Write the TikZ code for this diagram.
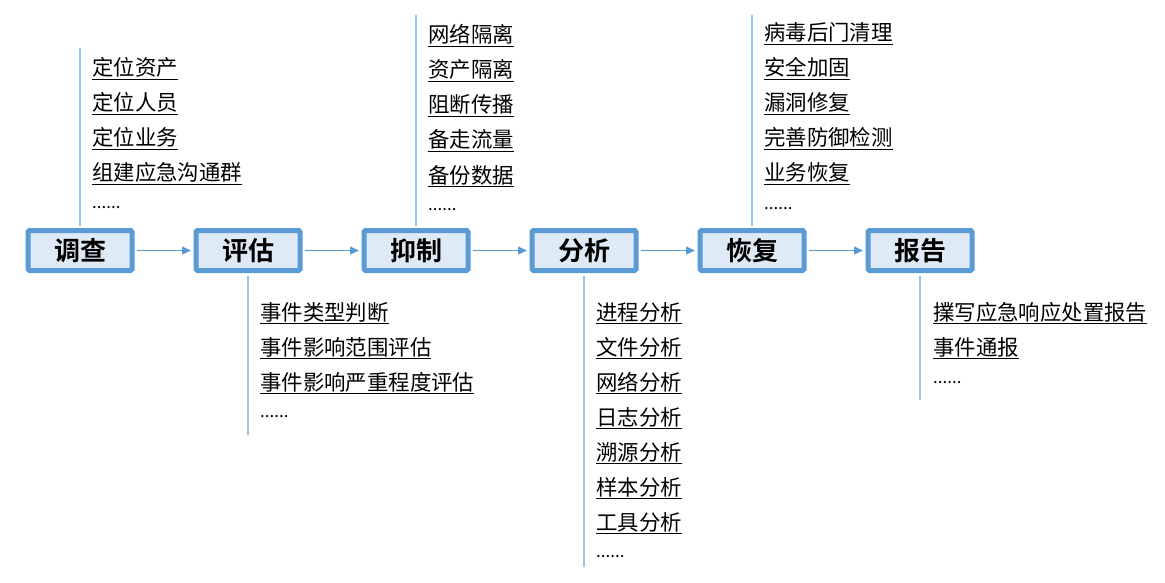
\documentclass[tikz,border=0pt]{standalone}
\usepackage{fontspec}
\setmainfont{Noto Sans CJK SC}[BoldFont={Noto Sans CJK SC Bold}]
\usetikzlibrary{arrows.meta}
\definecolor{boxblue}{HTML}{5B9BD5}
\definecolor{boxfill}{HTML}{DEEBF7}
\definecolor{stemblue}{HTML}{9DC3E6}

\begin{document}
\begin{tikzpicture}[x=1pt,y=-1pt,
    stage/.style={draw=boxblue, line width=5pt, fill=boxfill, rounded corners=1.5pt, minimum width=104pt, minimum height=40pt, inner sep=0pt, font=\fontsize{26}{30}\selectfont\bfseries},
    item/.style={anchor=base west, inner sep=0pt, font=\fontsize{21.4}{24}\selectfont},
    more/.style={anchor=base west, inner sep=0pt, font=\fontsize{17}{20}\selectfont},
    stem/.style={draw=stemblue, line width=1.5pt, shorten <=2.5pt},
    flow/.style={draw=boxblue, line width=1.3pt, shorten <=2.5pt, shorten >=2.5pt, -{Triangle[length=9pt,width=8pt]}}]
    \useasboundingbox (0,0) rectangle (1165,583);
    % stages
    \node[stage] (0) at (80,250.5) {调查};
    \node[stage] (1) at (248,250.5) {评估};
    \node[stage] (2) at (416,250.5) {抑制};
    \node[stage] (3) at (584,250.5) {分析};
    \node[stage] (4) at (752,250.5) {恢复};
    \node[stage] (5) at (920,250.5) {报告};
    \draw[flow] (0) -- (1);
    \draw[flow] (1) -- (2);
    \draw[flow] (2) -- (3);
    \draw[flow] (3) -- (4);
    \draw[flow] (4) -- (5);

    % stem ends
    \coordinate (s0) at (80,48);
    \coordinate (s1) at (248,435);
    \coordinate (s2) at (416,15);
    \coordinate (s3) at (584,567);
    \coordinate (s4) at (752,15);
    \coordinate (s5) at (920,400);
    \draw[stem] (0.north) -- (s0);
    \draw[stem] (1.south) -- (s1);
    \draw[stem] (2.north) -- (s2);
    \draw[stem] (3.south) -- (s3);
    \draw[stem] (4.north) -- (s4);
    \draw[stem] (5.south) -- (s5);

    % items
    \node[item] (a1) at (92,76) {\underline{定位资产}};
    \node[item] (a2) at (92,111) {\underline{定位人员}};
    \node[item] (a3) at (92,146) {\underline{定位业务}};
    \node[item] (a4) at (92,181) {\underline{组建应急沟通群}};
    \node[more] (a5) at (92,208) {......};

    \node[item] (b1) at (260,320) {\underline{事件类型判断}};
    \node[item] (b2) at (260,355) {\underline{事件影响范围评估}};
    \node[item] (b3) at (260,390) {\underline{事件影响严重程度评估}};
    \node[more] (b4) at (260,417) {......};

    \node[item] (c1) at (428,43) {\underline{网络隔离}};
    \node[item] (c2) at (428,78) {\underline{资产隔离}};
    \node[item] (c3) at (428,113) {\underline{阻断传播}};
    \node[item] (c4) at (428,148) {\underline{备走流量}};
    \node[item] (c5) at (428,183) {\underline{备份数据}};
    \node[more] (c6) at (428,211) {......};

    \node[item] (d1) at (596,320) {\underline{进程分析}};
    \node[item] (d2) at (596,355) {\underline{文件分析}};
    \node[item] (d3) at (596,390) {\underline{网络分析}};
    \node[item] (d4) at (596,425) {\underline{日志分析}};
    \node[item] (d5) at (596,460) {\underline{溯源分析}};
    \node[item] (d6) at (596,495) {\underline{样本分析}};
    \node[item] (d7) at (596,530) {\underline{工具分析}};
    \node[more] (d8) at (596,557) {......};

    \node[item] (e1) at (764,41) {\underline{病毒后门清理}};
    \node[item] (e2) at (764,76) {\underline{安全加固}};
    \node[item] (e3) at (764,111) {\underline{漏洞修复}};
    \node[item] (e4) at (764,146) {\underline{完善防御检测}};
    \node[item] (e5) at (764,181) {\underline{业务恢复}};
    \node[more] (e6) at (764,209) {......};

    \node[item] (f1) at (933,320) {\underline{擈写应急响应处置报告}};
    \node[item] (f2) at (933,355) {\underline{事件通报}};
    \node[more] (f3) at (933,383) {......};
\end{tikzpicture}
\end{document}
